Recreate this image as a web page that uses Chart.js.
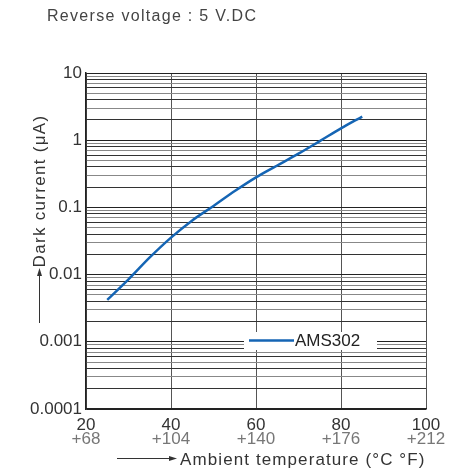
<!DOCTYPE html>
<html>
<head>
<meta charset="utf-8">
<script src="https://cdn.jsdelivr.net/npm/chart.js@4/dist/chart.umd.min.js"></script>
<style>
  html, body { margin: 0; padding: 0; background: #fff; }
  #wrap { width: 458px; height: 469px; }
</style>
</head>
<body>
<div id="wrap"><canvas id="chart" width="458" height="469"></canvas></div>
<script>
// values
const temperaturesC = [25, 30, 35, 40, 45, 50, 55, 60, 65, 70, 75, 80, 85]
const darkCurrent = [0.0042, 0.0085, 0.018, 0.0355, 0.064, 0.105, 0.175, 0.28, 0.42, 0.63, 0.97, 1.5, 2.25]
const seriesName = 'AMS302'
const xTicksC = [20, 40, 60, 80, 100]
const yDecades = [0.0001, 0.001, 0.01, 0.1, 1, 10]

const title = 'Reverse voltage : 5 V.DC'
const yTitle = 'Dark current (μA)'
const xTitle = 'Ambient temperature (°C °F)'

const font = '"Liberation Sans", Arial, sans-serif'
const blue = '#1565b4'

const cToF = c => Math.round(c * 9 / 5 + 32)

// every 1..9 step of every decade, for the grid
const yGrid = []
yDecades.forEach((d, i) => {
    if (i === yDecades.length - 1) { yGrid.push(d); return }
    for (let s = 1; s < 10; s++) yGrid.push(+(d * s).toPrecision(3))
})

const decorations = {
    id: 'decorations',
    afterDraw(chart) {
        const ctx = chart.ctx
        const area = chart.chartArea
        ctx.save()
        ctx.fillStyle = '#444'
        ctx.font = '16px ' + font
        ctx.letterSpacing = '1.3px'
        ctx.textBaseline = 'alphabetic'
        ctx.textAlign = 'left'
        ctx.fillText(title, 47, 21)

        // y title + arrow
        ctx.fillStyle = '#333'
        ctx.font = '17px ' + font
        ctx.letterSpacing = '1.3px'
        ctx.save()
        ctx.translate(45, 191)
        ctx.rotate(-Math.PI / 2)
        ctx.textAlign = 'center'
        ctx.fillText(yTitle, 0, 0)
        ctx.restore()
        ctx.strokeStyle = '#333'
        ctx.lineWidth = 1
        ctx.beginPath()
        ctx.moveTo(39.5, 323)
        ctx.lineTo(39.5, 274)
        ctx.stroke()
        ctx.beginPath()
        ctx.moveTo(39.5, 268)
        ctx.lineTo(37, 276)
        ctx.lineTo(42, 276)
        ctx.closePath()
        ctx.fill()

        // x title + arrow
        ctx.beginPath()
        ctx.moveTo(117, 458.5)
        ctx.lineTo(172, 458.5)
        ctx.stroke()
        ctx.beginPath()
        ctx.moveTo(177, 458.5)
        ctx.lineTo(169, 456)
        ctx.lineTo(169, 461)
        ctx.closePath()
        ctx.fill()
        ctx.textAlign = 'left'
        ctx.letterSpacing = '1.1px'
        ctx.fillText(xTitle, 180, 465)

        // legend box
        ctx.letterSpacing = '0px'
        const lx = area.left + 158
        const ly = area.top + 259
        ctx.fillStyle = '#fff'
        ctx.fillRect(lx, ly, 133, 18)
        const ds = chart.data.datasets[0]
        ctx.strokeStyle = ds.borderColor
        ctx.lineWidth = 2.5
        ctx.beginPath()
        ctx.moveTo(lx + 5, ly + 8.5)
        ctx.lineTo(lx + 50, ly + 8.5)
        ctx.stroke()
        ctx.fillStyle = '#222'
        ctx.textBaseline = 'middle'
        ctx.font = '17px ' + font
        ctx.fillText(ds.label, lx + 51, ly + 9.5)
        ctx.restore()
    }
}

new Chart(document.getElementById('chart'), {
    type: 'line',
    data: {
        datasets: [{
            label: seriesName,
            data: temperaturesC.map((t, i) => ({x: t, y: darkCurrent[i]})),
            borderColor: blue,
            borderWidth: 2.5,
            pointRadius: 0,
            cubicInterpolationMode: 'monotone',
            fill: false
        }]
    },
    options: {
        responsive: false,
        animation: false,
        events: [],
        layout: {padding: {left: 0, right: 32, top: 73, bottom: 22}},
        plugins: {legend: {display: false}, title: {display: false}, tooltip: {enabled: false}},
        scales: {
            x: {
                type: 'linear',
                min: 20,
                max: 100,
                afterBuildTicks: s => { s.ticks = xTicksC.map(v => ({value: v})) },
                afterFit: s => { s.height = 22 },
                border: {color: '#222', width: 1.5},
                grid: {color: '#555', lineWidth: 1, drawTicks: false},
                ticks: {color: '#333', font: {family: font, size: 17}, padding: 6, maxRotation: 0}
            },
            x2: {
                type: 'linear',
                position: 'bottom',
                min: 20,
                max: 100,
                afterBuildTicks: s => { s.ticks = xTicksC.map(v => ({value: v})) },
                afterFit: s => { s.height = 16 },
                border: {display: false},
                grid: {display: false, drawTicks: false},
                ticks: {color: '#777', font: {family: font, size: 17}, padding: -2, maxRotation: 0,
                    callback: v => '+' + cToF(v)}
            },
            y: {
                type: 'logarithmic',
                min: 0.0001,
                max: 10,
                afterBuildTicks: s => { s.ticks = yGrid.map(v => ({value: v})) },
                afterFit: s => { s.width = 86 },
                border: {color: '#222', width: 1.5},
                grid: {
                    drawTicks: false,
                    lineWidth: 1,
                    color: c => {
                        const v = c.tick ? c.tick.value : 1
                        const sig = Math.round(v / Math.pow(10, Math.floor(Math.log10(v) + 1e-9)))
                        return sig === 1 ? '#222' : (sig % 2 === 0 ? '#333' : '#888')
                    }
                },
                ticks: {
                    autoSkip: false,
                    color: '#333',
                    font: {family: font, size: 17},
                    padding: 4,
                    callback: v => yDecades.includes(v) ? String(v) : ''
                }
            }
        }
    },
    plugins: [decorations]
})
</script>
</body>
</html>
